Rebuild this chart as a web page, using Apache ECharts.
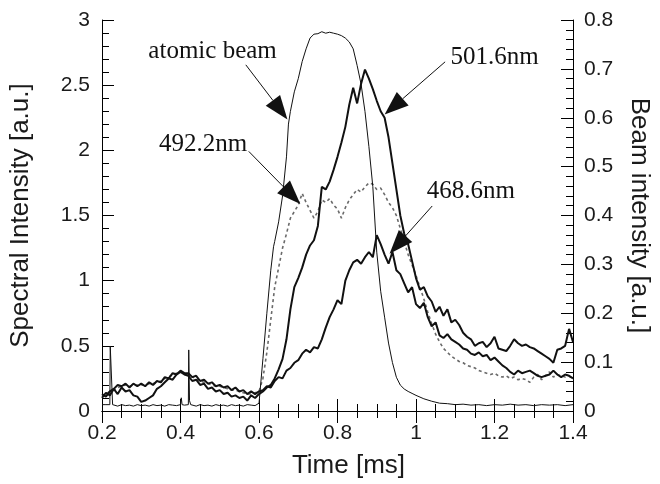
<!DOCTYPE html>
<html>
<head>
<meta charset="utf-8">
<script src="https://cdn.jsdelivr.net/npm/echarts@6/dist/echarts.min.js"></script>
<style>
html,body{margin:0;padding:0;background:#fff;}
#chart{width:660px;height:484px;}
</style>
</head>
<body>
<div id="chart"></div>
<script>
// ---- data (time in ms) ----
const timeMs = [0.20,0.21,0.22,0.23,0.24,0.25,0.26,0.27,0.28,0.29,0.30,0.31,0.32,0.33,0.34,0.35,0.36,0.37,0.38,0.39,0.40,0.41,0.42,0.43,0.44,0.45,0.46,0.47,0.48,0.49,0.50,0.51,0.52,0.53,0.54,0.55,0.56,0.57,0.58,0.59,0.60,0.61,0.62,0.63,0.64,0.65,0.66,0.67,0.68,0.69,0.70,0.71,0.72,0.73,0.74,0.75,0.76,0.77,0.78,0.79,0.80,0.81,0.82,0.83,0.84,0.85,0.86,0.87,0.88,0.89,0.90,0.91,0.92,0.93,0.94,0.95,0.96,0.97,0.98,0.99,1.00,1.01,1.02,1.03,1.04,1.05,1.06,1.07,1.08,1.09,1.10,1.11,1.12,1.13,1.14,1.15,1.16,1.17,1.18,1.19,1.20,1.21,1.22,1.23,1.24,1.25,1.26,1.27,1.28,1.29,1.30,1.31,1.32,1.33,1.34,1.35,1.36,1.37,1.38,1.39,1.40];

// 501.6 nm spectral intensity [a.u.]
const line5016 = [0.10,0.14,0.12,0.17,0.13,0.18,0.15,0.16,0.12,0.11,0.07,0.08,0.10,0.12,0.17,0.19,0.22,0.25,0.24,0.28,0.30,0.28,0.27,0.23,0.24,0.20,0.21,0.17,0.18,0.15,0.16,0.13,0.14,0.11,0.12,0.10,0.11,0.08,0.12,0.10,0.13,
0.15,0.18,0.20,0.25,0.32,0.40,0.55,0.78,0.95,1.02,1.10,1.20,1.27,1.31,1.42,1.72,1.70,1.76,1.85,1.95,2.06,2.18,2.35,2.48,2.36,2.51,2.62,2.55,2.47,2.38,2.30,2.25,2.10,1.90,1.70,1.50,1.36,1.28,1.15,1.02,0.93,0.95,0.88,0.84,0.76,0.80,0.73,0.78,0.68,0.70,0.66,0.60,0.57,0.55,0.50,0.52,0.53,0.49,0.52,0.57,0.48,0.47,0.46,0.50,0.55,0.52,0.50,0.51,0.49,0.48,0.46,0.44,0.42,0.40,0.37,0.47,0.48,0.50,0.63,0.53];

// 492.2 nm spectral intensity [a.u.]
const line4922 = [0.12,0.13,0.15,0.16,0.18,0.19,0.20,0.19,0.20,0.20,0.20,0.20,0.21,0.21,0.22,0.23,0.25,0.26,0.28,0.29,0.30,0.29,0.28,0.26,0.25,0.23,0.22,0.21,0.20,0.19,0.19,0.18,0.17,0.16,0.16,0.15,0.14,0.13,0.13,0.14,0.15,
0.25,0.45,0.70,0.95,1.10,1.25,1.36,1.48,1.53,1.58,1.67,1.60,1.54,1.48,1.53,1.62,1.60,1.63,1.58,1.55,1.48,1.56,1.62,1.66,1.70,1.68,1.72,1.75,1.74,1.70,1.71,1.66,1.60,1.56,1.50,1.40,1.30,1.20,1.12,1.04,0.95,0.86,0.76,0.67,0.59,0.53,0.48,0.45,0.42,0.40,0.38,0.37,0.35,0.34,0.33,0.31,0.30,0.29,0.28,0.29,0.27,0.26,0.27,0.25,0.26,0.24,0.25,0.24,0.22,0.26,0.28,0.24,0.27,0.30,0.26,0.28,0.27,0.26,0.27,0.24];

// 468.6 nm spectral intensity [a.u.]
const line4686 = [0.13,0.11,0.15,0.17,0.20,0.19,0.21,0.18,0.21,0.19,0.21,0.19,0.22,0.20,0.23,0.22,0.26,0.25,0.29,0.28,0.31,0.29,0.29,0.26,0.27,0.23,0.24,0.21,0.22,0.19,0.20,0.18,0.19,0.16,0.18,0.15,0.16,0.13,0.15,0.13,0.15,
0.16,0.19,0.18,0.23,0.26,0.25,0.31,0.33,0.37,0.39,0.44,0.47,0.45,0.49,0.48,0.55,0.64,0.72,0.78,0.85,0.82,1.00,1.08,1.14,1.16,1.13,1.18,1.22,1.18,1.35,1.28,1.20,1.13,1.22,1.08,1.05,0.98,0.91,0.95,0.82,0.79,0.83,0.72,0.65,0.68,0.58,0.56,0.59,0.55,0.53,0.51,0.48,0.47,0.44,0.43,0.45,0.42,0.43,0.39,0.41,0.38,0.35,0.33,0.30,0.28,0.31,0.29,0.30,0.31,0.29,0.27,0.26,0.27,0.28,0.31,0.28,0.26,0.28,0.27,0.25];

// atomic beam intensity [a.u.] (right axis)
const beamTime = [0.200,0.205,0.210,0.215,0.220,0.221,0.226,0.227,0.230,0.240,0.250,0.260,0.270,0.280,0.290,0.300,0.310,0.320,0.330,0.340,0.350,0.360,0.370,0.380,0.390,0.400,0.402,0.404,0.410,0.420,0.421,0.423,0.426,0.430,0.440,0.450,0.460,0.470,0.480,0.490,0.500,0.510,0.520,0.530,0.540,0.550,0.560,0.570,0.580,0.590,0.600,0.610,0.620,0.630,0.637,0.640,0.650,0.660,0.670,0.675,0.680,0.690,0.700,0.710,0.720,0.730,0.740,0.750,0.760,0.770,0.780,0.790,0.800,0.810,0.820,0.830,0.840,0.850,0.860,0.870,0.880,0.890,0.900,0.910,0.920,0.930,0.940,0.950,0.960,0.970,0.980,0.990,1.000,1.020,1.040,1.060,1.080,1.100,1.120,1.140,1.160,1.180,1.200,1.220,1.240,1.260,1.280,1.300,1.320,1.340,1.360,1.380,1.400];
const beamValue = [0.013,0.011,0.013,0.012,0.013,0.133,0.133,0.013,0.012,0.010,0.013,0.011,0.012,0.010,0.013,0.011,0.012,0.010,0.013,0.011,0.012,0.010,0.013,0.012,0.011,0.013,0.027,0.013,0.012,0.013,0.125,0.021,0.013,0.012,0.010,0.013,0.011,0.012,0.010,0.013,0.011,0.012,0.010,0.013,0.011,0.012,0.010,0.013,0.012,0.011,0.016,0.107,0.200,0.288,0.336,0.347,0.387,0.440,0.520,0.587,0.613,0.653,0.680,0.715,0.741,0.763,0.771,0.772,0.776,0.773,0.775,0.773,0.771,0.768,0.763,0.755,0.741,0.707,0.669,0.613,0.541,0.459,0.325,0.245,0.192,0.139,0.099,0.069,0.053,0.045,0.040,0.036,0.032,0.025,0.020,0.016,0.015,0.013,0.014,0.012,0.013,0.011,0.013,0.012,0.014,0.012,0.013,0.011,0.013,0.012,0.013,0.011,0.013,0.012,0.013];

// tick setup
const xMin = 0.2, xMax = 1.4, xStep = 0.2;
const yMin = 0, yMax = 3, yStep = 0.5;
const y2Min = 0, y2Max = 0.8, y2Step = 0.1;

// annotations (data coordinates on the left axis)
const annoLabels = ['atomic beam','492.2nm','501.6nm','468.6nm'];
const annoTextAt = [[0.4817,2.756],[0.4577,2.046],[1.2005,2.71],[1.1399,1.687]];
const annoFrom   = [[0.5664,2.656],[0.5739,1.992],[1.0742,2.679],[1.0413,1.573]];
const annoTip    = [[0.6725,2.237],[0.7053,1.588],[0.9200,2.275],[0.9327,1.206]];

function pairs(xs, ys){ return xs.map((x,i)=>[x, ys[i]]); }

const sans = 'Liberation Sans, Arial, sans-serif';
const serif = 'Liberation Serif, Times New Roman, serif';
const tickCommon = {inside:true, length:12, lineStyle:{color:'#000', width:1}};
const minorCommon = {show:true, length:7, lineStyle:{color:'#000', width:1}};

const chart = echarts.init(document.getElementById('chart'), null, {renderer:'canvas'});
const option = {
  backgroundColor:'#fff',
  animation:false,
  grid:{left:102, right:83, top:20, bottom:71, containLabel:false},
  xAxis:[
    {type:'value', min:xMin, max:xMax, interval:xStep, position:'bottom',
     axisLine:{show:true, lineStyle:{color:'#000', width:1}},
     axisTick:tickCommon, minorTick:Object.assign({splitNumber:4}, minorCommon),
     splitLine:{show:false},
     axisLabel:{fontSize:21, color:'#1a1a1a', fontFamily:sans, margin:12},
     name:'Time [ms]', nameLocation:'middle', nameGap:42,
     nameTextStyle:{fontSize:26, color:'#1a1a1a', fontFamily:sans, padding:[0,0,0,22]}},
    {type:'value', min:xMin, max:xMax, interval:xStep, position:'top',
     axisLine:{show:true, lineStyle:{color:'#000', width:1}},
     axisTick:tickCommon, minorTick:Object.assign({splitNumber:4}, minorCommon),
     splitLine:{show:false}, axisLabel:{show:false}}
  ],
  yAxis:[
    {type:'value', min:yMin, max:yMax, interval:yStep, position:'left',
     axisLine:{show:true, lineStyle:{color:'#000', width:1}},
     axisTick:tickCommon, minorTick:Object.assign({splitNumber:5}, minorCommon),
     splitLine:{show:false},
     axisLabel:{fontSize:21, color:'#1a1a1a', fontFamily:sans, margin:12},
     name:'Spectral Intensity [a.u.]', nameLocation:'middle', nameGap:68, nameRotate:90,
     nameTextStyle:{fontSize:26, color:'#1a1a1a', fontFamily:sans}},
    {type:'value', min:y2Min, max:y2Max, interval:y2Step, position:'right',
     axisLine:{show:true, lineStyle:{color:'#000', width:1}},
     axisTick:tickCommon, minorTick:Object.assign({splitNumber:5}, minorCommon),
     splitLine:{show:false},
     axisLabel:{fontSize:21, color:'#1a1a1a', fontFamily:sans, margin:11},
     name:'Beam intensity [a.u.]', nameLocation:'middle', nameGap:53, nameRotate:-90,
     nameTextStyle:{fontSize:26, color:'#1a1a1a', fontFamily:sans}}
  ],
  series:[
    {name:'492.2nm', type:'line', xAxisIndex:0, yAxisIndex:0, data:pairs(timeMs, line4922),
     showSymbol:false, symbol:'none', lineStyle:{color:'#6a6a6a', width:1.6, type:[3,3]}, z:2},
    {name:'468.6nm', type:'line', xAxisIndex:0, yAxisIndex:0, data:pairs(timeMs, line4686),
     showSymbol:false, symbol:'none', lineStyle:{color:'#111', width:2}, z:3},
    {name:'501.6nm', type:'line', xAxisIndex:0, yAxisIndex:0, data:pairs(timeMs, line5016),
     showSymbol:false, symbol:'none', lineStyle:{color:'#111', width:2}, z:4},
    {name:'atomic beam', type:'line', xAxisIndex:0, yAxisIndex:1, data:pairs(beamTime, beamValue),
     showSymbol:false, symbol:'none', lineStyle:{color:'#111', width:1}, z:5}
  ]
};
chart.setOption(option);

// annotations: labels + arrows placed via axis scales
const L = 24, W = 9;
const gfx = [];
annoLabels.forEach((txt, i)=>{
  const p = chart.convertToPixel({xAxisIndex:0, yAxisIndex:0}, annoTextAt[i]);
  const a = chart.convertToPixel({xAxisIndex:0, yAxisIndex:0}, annoFrom[i]);
  const b = chart.convertToPixel({xAxisIndex:0, yAxisIndex:0}, annoTip[i]);
  const dx = b[0]-a[0], dy = b[1]-a[1], d = Math.hypot(dx,dy);
  const ux = dx/d, uy = dy/d;
  const bx = b[0]-ux*L, by = b[1]-uy*L;
  gfx.push({type:'text', x:p[0], y:p[1], z:20,
    style:{text:txt, fill:'#111', font:'25px ' + serif, textAlign:'center', textVerticalAlign:'middle'}});
  gfx.push({type:'line', z:20, shape:{x1:a[0], y1:a[1], x2:bx, y2:by}, style:{stroke:'#111', lineWidth:1}});
  gfx.push({type:'polygon', z:20, shape:{points:[[b[0],b[1]],[bx-uy*W, by+ux*W],[bx+uy*W, by-ux*W]]}, style:{fill:'#111'}});
});
chart.setOption({graphic:gfx});
</script>
</body>
</html>
